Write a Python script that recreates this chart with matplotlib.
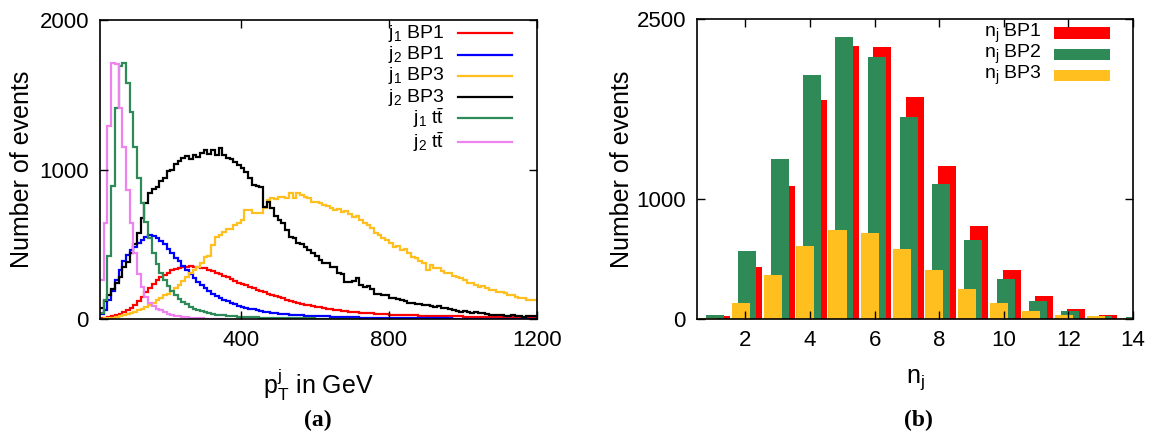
import numpy as np
import matplotlib
matplotlib.use("Agg")
import matplotlib.pyplot as plt

plt.rcParams['font.family'] = ['Liberation Sans', 'DejaVu Sans']
plt.rcParams['mathtext.fontset'] = 'custom'
plt.rcParams['mathtext.rm'] = 'Liberation Sans'
plt.rcParams['mathtext.it'] = 'Liberation Sans:italic'
plt.rcParams['mathtext.bf'] = 'Liberation Sans:bold'

# ---------------- data: panel (a) p_T histograms, 10 GeV bins from 20 GeV ----------------
BIN_START = 20
BIN_WIDTH = 10

j1_bp1 = [4, 8, 14, 20, 27, 35, 45, 58, 73, 95,
          120, 149, 180, 210, 235, 258, 278, 294, 310, 325,
          335, 341, 348, 350, 352, 350, 346, 340, 338, 330,
          320, 310, 298, 288, 278, 266, 254, 244, 234, 225,
          215, 205, 195, 188, 180, 170, 160, 152, 145, 138,
          130, 120, 115, 108, 102, 96, 92, 88, 82, 78,
          74, 70, 65, 62, 58, 56, 53, 50, 48, 45,
          43, 40, 38, 37, 35, 34, 32, 31, 30, 29,
          28, 27, 26, 25, 24, 24, 23, 22, 22, 21,
          20, 20, 19, 19, 18, 18, 17, 17, 16, 16,
          15, 15, 14, 14, 13, 13, 13, 12, 12, 12,
          11, 11, 11, 10, 10, 10, 9, 9]

j2_bp1 = [35, 60, 127, 190, 261, 328, 390, 430, 462, 484,
          506, 528, 550, 560, 555, 540, 525, 500, 470, 440,
          410, 385, 355, 325, 300, 275, 250, 228, 205, 188,
          170, 155, 140, 128, 118, 108, 98, 90, 82, 76,
          70, 64, 58, 54, 50, 46, 42, 39, 36, 33,
          31, 29, 27, 25, 24, 23, 22, 21, 20, 19,
          18, 17, 16, 15, 14, 13, 12, 12, 11, 11,
          10, 10, 9, 9, 8, 8, 8, 7, 7, 7,
          6, 6, 6, 6, 5, 5, 5, 5, 5, 4,
          4, 4, 4, 4, 4, 3, 3, 3, 3, 3,
          3, 3, 3, 3, 2, 2, 2, 2, 2, 2,
          2, 2, 2, 2, 2, 2, 1, 1]

j1_bp3 = [2, 4, 7, 10, 14, 19, 25, 32, 40, 50,
          60, 70, 82, 94, 110, 127, 140, 160, 170, 188,
          205, 230, 255, 280, 305, 328, 350, 372, 417, 420,
          495, 551, 565, 580, 602, 605, 629, 640, 662, 729,
          730, 709, 712, 709, 743, 796, 809, 805, 816, 818,
          812, 843, 809, 843, 830, 816, 810, 782, 785, 775,
          760, 758, 745, 729, 735, 718, 720, 705, 684, 690,
          660, 640, 628, 610, 573, 560, 545, 528, 510, 484,
          490, 462, 465, 440, 417, 410, 390, 372, 328, 360,
          338, 340, 320, 305, 310, 290, 283, 275, 260, 238,
          240, 225, 216, 220, 205, 194, 196, 183, 180, 172,
          160, 162, 150, 138, 142, 130, 127, 130]

j2_bp3 = [73, 120, 160, 200, 240, 283, 350, 383, 440, 500,
          575, 676, 776, 843, 870, 885, 920, 940, 990, 1000,
          1040, 1060, 1074, 1090, 1070, 1095, 1085, 1108, 1130, 1105,
          1130, 1097, 1141, 1097, 1075, 1070, 1053, 1030, 1010, 985,
          941, 896, 890, 885, 751, 784, 740, 690, 660, 640,
          595, 551, 545, 506, 500, 484, 460, 439, 420, 395,
          372, 375, 350, 345, 305, 300, 250, 245, 255, 272,
          230, 216, 220, 200, 170, 165, 160, 158, 140, 138,
          135, 130, 120, 110, 105, 100, 102, 94, 96, 90,
          80, 84, 71, 72, 68, 62, 55, 50, 52, 48,
          40, 45, 38, 40, 35, 30, 28, 25, 30, 22,
          20, 24, 18, 20, 15, 20, 18, 20]

j1_tt = [40, 130, 420, 890, 1410, 1690, 1715, 1577, 1387, 1153,
         945, 776, 650, 540, 440, 370, 310, 260, 220, 185,
         160, 135, 115, 98, 82, 70, 60, 52, 45, 40,
         35, 30, 27, 24, 22, 20, 18, 16, 15, 14,
         13, 12, 11, 10, 9, 9, 8, 8, 7, 7,
         6, 6, 5, 5, 5, 4, 4, 4, 3, 3,
         3, 3, 2, 2, 2, 2, 2, 2, 1, 1]

j2_tt = [260, 640, 1290, 1710, 1705, 1410, 1150, 860, 640, 440,
         300, 216, 150, 110, 90, 70, 60, 45, 35, 28,
         22, 18, 14, 11, 9, 7, 5, 4, 3, 2,
         2, 1, 1, 1]

hist_series = [
    (j1_bp1, r'j$_1$ BP1', '#ff0000'),
    (j2_bp1, r'j$_2$ BP1', '#0000ff'),
    (j1_bp3, r'j$_1$ BP3', '#ffbf1f'),
    (j2_bp3, r'j$_2$ BP3', '#000000'),
    (j1_tt, r'j$_1$ t$\bar{\rm t}$', '#2e8b57'),
    (j2_tt, r'j$_2$ t$\bar{\rm t}$', '#ee82ee'),
]

# ---------------- data: panel (b) jet multiplicity ----------------
n_jets = [1, 2, 3, 4, 5, 6, 7, 8, 9, 10, 11, 12, 13, 14]
nj_bp1 = [28, 430, 1111, 1825, 2278, 2267, 1847, 1278, 775, 408, 194, 83, 36, 10]
nj_bp2 = [33, 569, 1333, 2033, 2350, 2183, 1686, 1128, 658, 333, 153, 69, 28, 15]
nj_bp3 = [11, 133, 364, 611, 744, 719, 581, 408, 250, 136, 67, 36, 22, 11]

# ---------------- figure ----------------
fig = plt.figure(figsize=(11.49, 4.34), dpi=100)
axL = fig.add_axes([100/1149, 1-319/434, 437/1149, 299/434])
axR = fig.add_axes([697/1149, 1-319/434, 436/1149, 300/434])

TICK_FS = 16
LABEL_FS = 18
LEG_FS = 14
ROW = 0.071
legend_rows = [0.955, 0.955 - ROW, 0.955 - 2*ROW, 0.955 - 3*ROW,
               0.955 - 4*ROW, 0.955 - 5*ROW - 0.008]

for vals, lab, col in hist_series:
    edges = BIN_START + BIN_WIDTH * np.arange(len(vals) + 1)
    axL.stairs(vals, edges, color=col, lw=1.6, baseline=None)

axL.set_xlim(20, 1200)
axL.set_ylim(0, 2000)
axL.set_xticks([400, 800, 1200])
axL.set_yticks([0, 1000, 2000])

# legend (a), drawn manually with right-aligned text
for (vals, lab, col), yy in zip(hist_series, legend_rows):
    axL.text(0.789, yy, lab, transform=axL.transAxes, ha='right', va='center',
             fontsize=LEG_FS)
    axL.plot([0.819, 0.943], [yy, yy], transform=axL.transAxes, color=col, lw=1.6)

axL.set_ylabel('Number of events', fontsize=LABEL_FS)
axL.yaxis.set_label_coords(-0.152, 0.5)
axL.set_xlabel(r'p$^{\rm j}_{\rm T}$ in GeV', fontsize=LABEL_FS)
axL.xaxis.set_label_coords(0.5, -0.16)

# panel (b)
W = 0.56
off = {'bp1': 0.24, 'bp2': 0.06, 'bp3': -0.15}
x = np.array(n_jets, dtype=float)
axR.bar(x + off['bp1'], nj_bp1, width=W, color='#ff0000', lw=0)
axR.bar(x + off['bp2'], nj_bp2, width=W, color='#2e8b57', lw=0)
axR.bar(x + off['bp3'], nj_bp3, width=W, color='#ffbf1f', lw=0)
axR.set_xlim(0.5, 14)
axR.set_ylim(0, 2500)
axR.set_xticks([2, 4, 6, 8, 10, 12, 14])
axR.set_yticks([0, 1000, 2500])

leg_b = [(r'n$_{\rm j}$ BP1', '#ff0000'), (r'n$_{\rm j}$ BP2', '#2e8b57'),
         (r'n$_{\rm j}$ BP3', '#ffbf1f')]
for i, (lab, col) in enumerate(leg_b):
    yy = 0.953 - i * ROW
    axR.text(0.791, yy, lab, transform=axR.transAxes, ha='right', va='center',
             fontsize=LEG_FS)
    axR.add_patch(plt.Rectangle((0.819, yy - 0.019), 0.128, 0.038,
                                transform=axR.transAxes, color=col, lw=0))

axR.set_ylabel('Number of events', fontsize=LABEL_FS)
axR.yaxis.set_label_coords(-0.145, 0.5)
axR.set_xlabel(r'n$_{\rm j}$', fontsize=LABEL_FS)
axR.xaxis.set_label_coords(0.5, -0.16)

for ax in (axL, axR):
    ax.tick_params(direction='in', length=6, width=1, top=True, right=True,
                   labelsize=TICK_FS, pad=8)
    for s in ax.spines.values():
        s.set_linewidth(1.2)
        s.set_zorder(5)

fig.text(318/1149, 1-420/434, '(a)', ha='center', va='center', fontsize=17,
         fontweight='bold', family='Liberation Serif')
fig.text(918/1149, 1-420/434, '(b)', ha='center', va='center', fontsize=17,
         fontweight='bold', family='Liberation Serif')

fig.savefig('out.png', dpi=100)
